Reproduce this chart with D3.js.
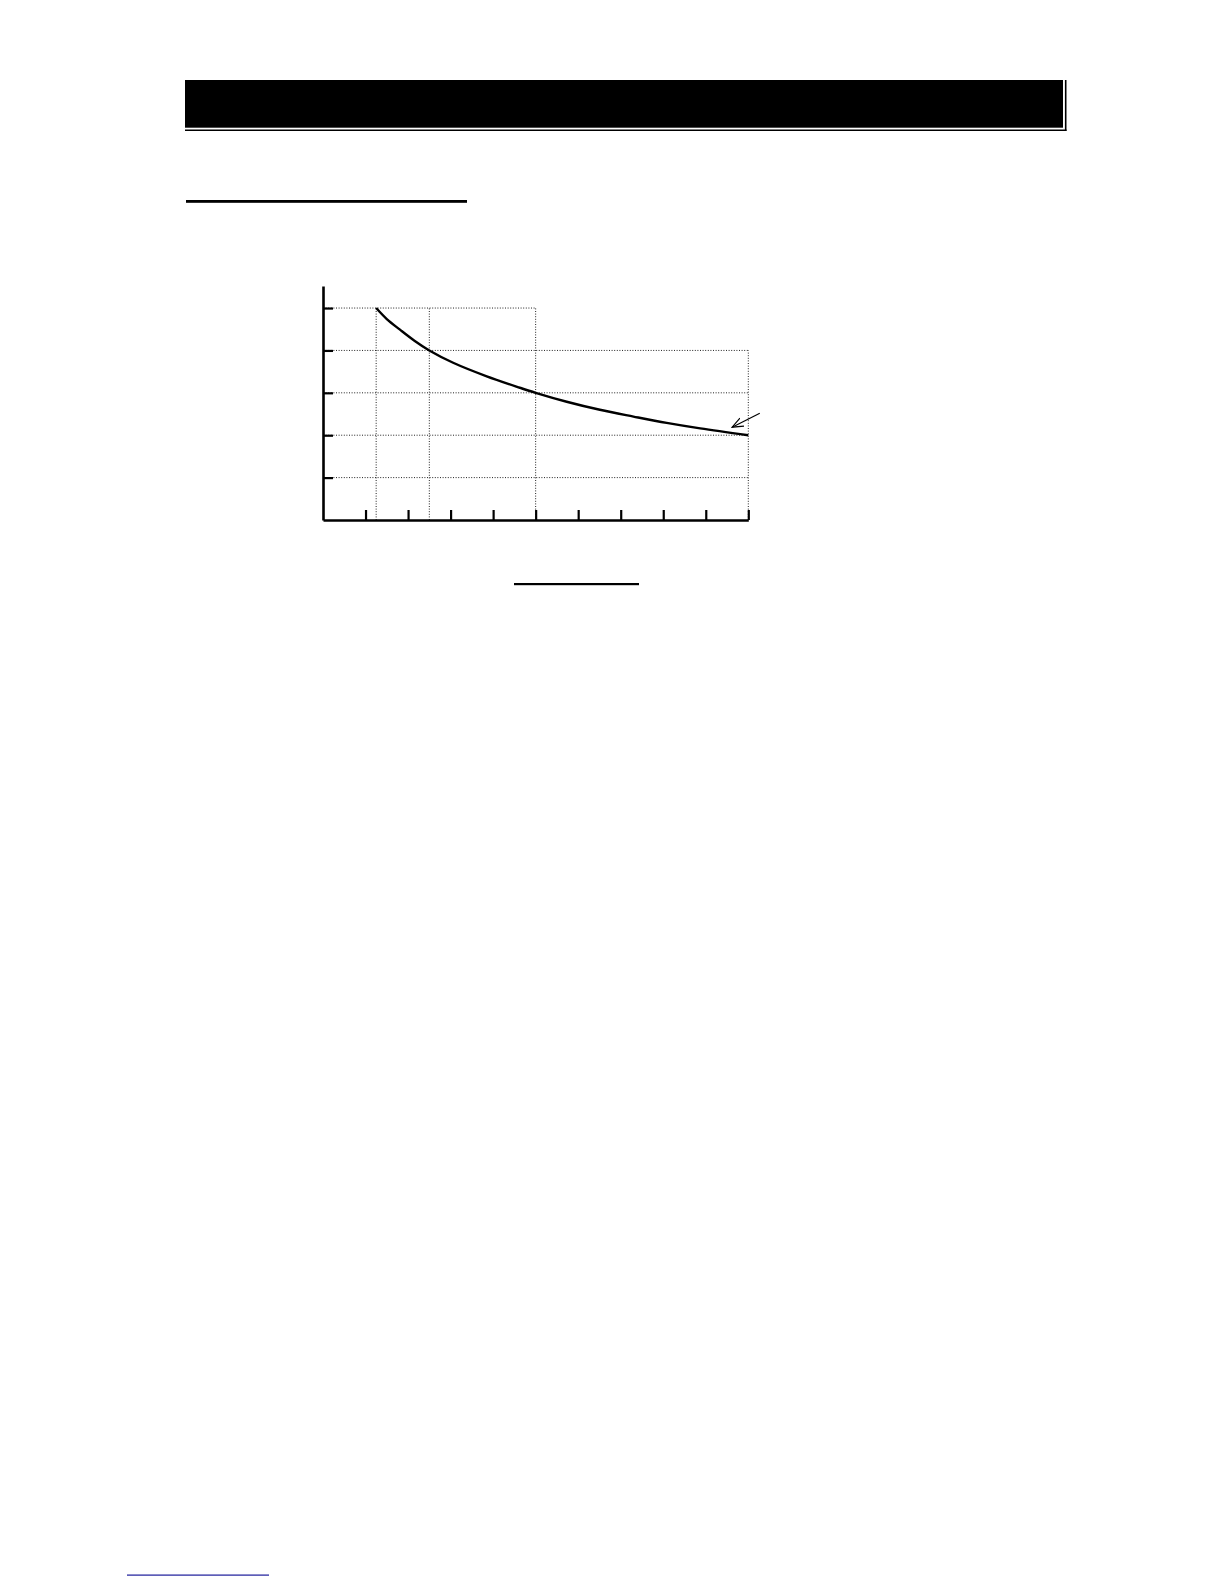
<!DOCTYPE html>
<html>
<head>
<meta charset="utf-8">
<script src="https://cdn.jsdelivr.net/npm/d3@7"></script>
<style>
  html, body { margin: 0; padding: 0; background: #fff; }
  svg { display: block; }
</style>
</head>
<body>
<svg id="page" width="1224" height="1584"></svg>
<script>
// curve (x in tick units, y in grid units)
const curveX = [1.25, 1.5, 1.81, 2.15, 2.5, 3.06, 3.85, 4.63, 5.0, 5.73, 6.51, 7.30, 8.08, 8.87, 10];
const curveY = [5.0, 4.74, 4.49, 4.23, 4.0, 3.71, 3.39, 3.12, 3.0, 2.79, 2.60, 2.44, 2.29, 2.16, 2.0];

// ticks on both axes
const xTicks = [1, 2, 3, 4, 5, 6, 7, 8, 9, 10];
const yTicks = [1, 2, 3, 4, 5];

// dotted grid: horizontal rows stop at different x, vertical columns at different y
const hGridY    = [1, 2, 3, 4, 5];
const hGridEnd  = [10, 10, 10, 10, 5];
const vGridX    = [1.25, 2.5, 5, 10];
const vGridTop  = [5, 5, 5, 4];

// annotation arrow (tail -> tip)
const arrowX = [10.27, 9.62];
const arrowY = [2.52, 2.19];

const svg = d3.select("#page");

// ─── page furniture ───────────────────────────────
svg.append("rect").attr("x", 0).attr("y", 0).attr("width", 1224).attr("height", 1584).attr("fill", "#fff");

// black header bar with double edge at bottom/right
svg.append("rect").attr("x", 185).attr("y", 80).attr("width", 878).attr("height", 47.7).attr("fill", "#000");
svg.append("line").attr("x1", 185).attr("x2", 1066.5).attr("y1", 130.2).attr("y2", 130.2)
  .attr("stroke", "#000").attr("stroke-width", 1.6);
svg.append("line").attr("x1", 1065.7).attr("x2", 1065.7).attr("y1", 80).attr("y2", 131)
  .attr("stroke", "#000").attr("stroke-width", 1.6);

// section heading underline
svg.append("rect").attr("x", 186).attr("y", 200).attr("width", 281).attr("height", 2.8).attr("fill", "#000");

// caption underline
svg.append("rect").attr("x", 514).attr("y", 583).attr("width", 125).attr("height", 2.2).attr("fill", "#000");

// link underline at the foot of the page
svg.append("rect").attr("x", 127).attr("y", 1574.5).attr("width", 142).attr("height", 1.2).attr("fill", "#1a1a9a");

// ─── chart ───────────────────────────────────────
const x = d3.scaleLinear().domain([0, 10]).range([323, 748.3]);
const y = d3.scaleLinear().domain([0, 5.52]).range([520, 286]);

const g = svg.append("g");

// grid
g.selectAll("line.hgrid")
  .data(hGridY.map((v, i) => ({ y: v, end: hGridEnd[i] })))
  .enter().append("line")
  .attr("class", "hgrid")
  .attr("x1", x(0)).attr("x2", d => x(d.end))
  .attr("y1", d => y(d.y)).attr("y2", d => y(d.y))
  .attr("stroke", "#222").attr("stroke-width", 1)
  .attr("stroke-dasharray", "1,1.6");

g.selectAll("line.vgrid")
  .data(vGridX.map((v, i) => ({ x: v, top: vGridTop[i] })))
  .enter().append("line")
  .attr("class", "vgrid")
  .attr("x1", d => x(d.x)).attr("x2", d => x(d.x))
  .attr("y1", y(0)).attr("y2", d => y(d.top))
  .attr("stroke", "#222").attr("stroke-width", 1)
  .attr("stroke-dasharray", "1,1.6");

// axes (no labels on the page)
const xAxis = d3.axisBottom(x).tickValues(xTicks).tickSizeInner(-10).tickSizeOuter(0).tickFormat("");
const yAxis = d3.axisLeft(y).tickValues(yTicks).tickSizeInner(-10).tickSizeOuter(0).tickFormat("");

const gx = g.append("g").attr("transform", `translate(0,${y(0)})`).call(xAxis);
const gy = g.append("g").attr("transform", `translate(${x(0)},0)`).call(yAxis);

[gx, gy].forEach(a => {
  a.select(".domain").attr("stroke", "#000").attr("stroke-width", 2.6);
  a.selectAll(".tick line").attr("stroke", "#000").attr("stroke-width", 2.2);
});

// curve
const pts = curveX.map((v, i) => [v, curveY[i]]);
const line = d3.line()
  .x(d => x(d[0]))
  .y(d => y(d[1]))
  .curve(d3.curveCatmullRom.alpha(0.5));

g.append("path")
  .datum(pts)
  .attr("d", line)
  .attr("fill", "none")
  .attr("stroke", "#000")
  .attr("stroke-width", 2.4)
  .attr("stroke-linejoin", "round");

// annotation arrow with open head
svg.append("defs").append("marker")
  .attr("id", "openHead")
  .attr("viewBox", "0 -6 12 12")
  .attr("refX", 11).attr("refY", 0)
  .attr("markerWidth", 12).attr("markerHeight", 12)
  .attr("markerUnits", "userSpaceOnUse")
  .attr("orient", "auto")
  .append("path")
  .attr("d", "M0,-4.5L11,0L0,4.5")
  .attr("fill", "none")
  .attr("stroke", "#000")
  .attr("stroke-width", 1.2);

g.append("line")
  .attr("x1", x(arrowX[0])).attr("y1", y(arrowY[0]))
  .attr("x2", x(arrowX[1])).attr("y2", y(arrowY[1]))
  .attr("stroke", "#000").attr("stroke-width", 1.2)
  .attr("marker-end", "url(#openHead)");
</script>
</body>
</html>
